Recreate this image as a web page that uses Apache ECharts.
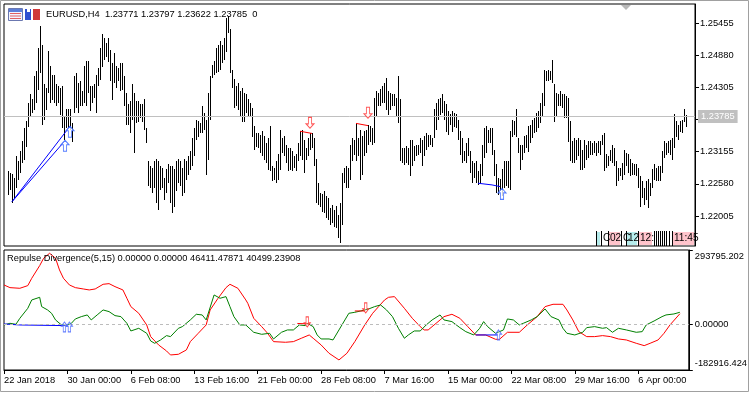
<!DOCTYPE html>
<html><head><meta charset="utf-8">
<script src="https://cdn.jsdelivr.net/npm/echarts@6/dist/echarts.min.js"></script>
<style>html,body{margin:0;padding:0;background:#fff}#c{width:750px;height:394px}</style>
</head><body><div id="c"></div>
<script>
// ---------------- data ----------------
const symbolName = "EURUSD,H4";
const lastOHLC = [1.23771, 1.23797, 1.23622, 1.23785];
const lastVolume = 0;
const firstBarIndex = 2;
const barHigh = [
1.2280,1.2277,1.2274,1.2268,1.2307,1.2298,1.2315,1.2333,1.2357,1.2369,
1.2402,1.2417,1.2408,1.2449,1.2458,1.2500,1.2539,1.2506,1.2435,1.2429,
1.2494,1.2467,1.2452,1.2452,1.2435,1.2432,1.2429,1.2432,1.2378,1.2390,
1.2390,1.2390,1.2366,1.2449,1.2455,1.2438,1.2441,1.2423,1.2467,1.2476,
1.2476,1.2432,1.2432,1.2435,1.2452,1.2464,1.2500,1.2524,1.2518,1.2509,
1.2518,1.2497,1.2473,1.2491,1.2467,1.2464,1.2473,1.2473,1.2449,1.2420,
1.2399,1.2405,1.2435,1.2420,1.2405,1.2405,1.2399,1.2399,1.2408,1.2357,
1.2298,1.2289,1.2286,1.2298,1.2301,1.2298,1.2289,1.2286,1.2268,1.2283,
1.2292,1.2289,1.2289,1.2283,1.2298,1.2301,1.2298,1.2286,1.2301,1.2298,
1.2307,1.2315,1.2339,1.2357,1.2372,1.2369,1.2366,1.2396,1.2384,1.2372,
1.2420,1.2449,1.2470,1.2476,1.2500,1.2506,1.2512,1.2506,1.2518,1.2554,
1.2557,1.2533,1.2461,1.2444,
1.2432,1.2438,1.2423,1.2429,1.2420,1.2417,1.2408,1.2402,1.2393,1.2360,
1.2348,1.2348,1.2345,1.2351,1.2342,1.2330,1.2339,1.2360,1.2289,1.2286,
1.2298,1.2310,1.2354,1.2339,1.2342,1.2327,1.2321,1.2321,1.2315,1.2307,
1.2310,1.2330,1.2351,1.2354,1.2336,1.2321,1.2339,1.2348,1.2348,1.2339,
1.2301,1.2259,1.2241,1.2238,1.2244,1.2235,1.2232,1.2214,1.2220,1.2211,
1.2217,1.2202,1.2223,1.2277,1.2286,1.2289,1.2286,1.2327,1.2339,1.2336,
1.2366,1.2339,1.2354,1.2342,1.2351,1.2354,1.2363,1.2360,1.2357,1.2411,
1.2423,1.2420,1.2426,1.2432,1.2438,1.2446,1.2423,1.2420,1.2417,1.2417,
1.2411,1.2449,1.2408,1.2321,1.2321,1.2324,1.2321,1.2336,1.2336,1.2324,
1.2327,1.2327,1.2339,1.2336,1.2342,1.2348,1.2345,1.2345,1.2339,1.2390,
1.2402,1.2408,1.2411,1.2417,1.2405,1.2399,1.2387,1.2381,1.2387,1.2384,
1.2381,1.2372,
1.2351,1.2339,1.2315,1.2330,1.2339,1.2315,1.2298,1.2295,1.2298,1.2280,
1.2292,1.2327,1.2357,1.2360,1.2354,1.2357,1.2357,1.2318,1.2292,1.2268,
1.2265,1.2283,1.2298,1.2298,1.2298,1.2351,1.2372,1.2369,1.2390,1.2339,
1.2327,1.2327,1.2342,1.2345,1.2360,1.2363,1.2372,1.2375,1.2384,1.2387,
1.2402,1.2420,1.2461,1.2458,1.2461,1.2458,1.2479,1.2435,1.2420,1.2417,
1.2423,1.2417,1.2417,1.2414,1.2411,1.2369,1.2333,1.2339,1.2336,1.2339,
1.2336,1.2318,1.2336,1.2327,1.2333,1.2333,1.2330,1.2333,1.2330,1.2333,
1.2333,1.2345,1.2348,1.2310,1.2307,1.2318,1.2327,1.2321,1.2298,1.2286,
1.2286,1.2295,1.2318,1.2312,1.2310,1.2301,1.2295,1.2292,1.2292,1.2286,
1.2271,1.2262,1.2250,1.2262,1.2265,1.2259,1.2283,1.2292,1.2286,1.2289,
1.2289,1.2315,1.2333,1.2330,1.2333,1.2336,1.2339,1.2381,1.2369,1.2363,
1.2369,1.2372,1.2390,1.23797];
const barLow = [
1.2241,1.2250,1.2226,1.2235,1.2253,1.2268,1.2280,1.2298,1.2304,1.2327,
1.2363,1.2381,1.2387,1.2393,1.2405,1.2429,1.2458,1.2366,1.2375,1.2393,
1.2423,1.2405,1.2411,1.2405,1.2399,1.2405,1.2384,1.2360,1.2339,1.2360,
1.2360,1.2357,1.2336,1.2387,1.2396,1.2387,1.2399,1.2399,1.2405,1.2399,
1.2423,1.2390,1.2405,1.2414,1.2387,1.2435,1.2446,1.2470,1.2482,1.2488,
1.2479,1.2444,1.2411,1.2441,1.2432,1.2444,1.2426,1.2429,1.2399,1.2366,
1.2366,1.2351,1.2375,1.2315,1.2369,1.2372,1.2378,1.2372,1.2357,1.2333,
1.2256,1.2253,1.2244,1.2253,1.2226,1.2214,1.2250,1.2253,1.2232,1.2244,
1.2262,1.2226,1.2208,1.2220,1.2247,1.2262,1.2256,1.2238,1.2244,1.2268,
1.2277,1.2286,1.2292,1.2310,1.2339,1.2345,1.2351,1.2351,1.2357,1.2277,
1.2304,1.2375,1.2449,1.2455,1.2458,1.2461,1.2464,1.2476,1.2482,1.2497,
1.2530,1.2458,1.2432,1.2396,
1.2399,1.2393,1.2381,1.2372,1.2372,1.2387,1.2381,1.2381,1.2345,1.2321,
1.2327,1.2324,1.2315,1.2310,1.2304,1.2298,1.2286,1.2283,1.2265,1.2268,
1.2262,1.2268,1.2286,1.2315,1.2310,1.2298,1.2283,1.2286,1.2283,1.2289,
1.2283,1.2301,1.2310,1.2304,1.2280,1.2304,1.2310,1.2321,1.2324,1.2292,
1.2226,1.2223,1.2220,1.2211,1.2208,1.2199,1.2196,1.2187,1.2190,1.2184,
1.2181,1.2163,1.2154,1.2187,1.2262,1.2253,1.2253,1.2268,1.2301,1.2312,
1.2301,1.2310,1.2268,1.2277,1.2310,1.2315,1.2330,1.2336,1.2330,1.2333,
1.2381,1.2399,1.2399,1.2405,1.2405,1.2393,1.2384,1.2393,1.2399,1.2399,
1.2381,1.2369,1.2301,1.2298,1.2295,1.2298,1.2295,1.2274,1.2292,1.2301,
1.2310,1.2312,1.2315,1.2292,1.2310,1.2321,1.2327,1.2330,1.2327,1.2342,
1.2357,1.2375,1.2384,1.2387,1.2375,1.2354,1.2348,1.2366,1.2354,1.2363,
1.2360,1.2339,
1.2312,1.2298,1.2301,1.2298,1.2310,1.2280,1.2262,1.2271,1.2262,1.2259,
1.2262,1.2274,1.2307,1.2315,1.2333,1.2333,1.2312,1.2274,1.2244,1.2241,
1.2247,1.2238,1.2253,1.2256,1.2253,1.2250,1.2345,1.2348,1.2345,1.2315,
1.2286,1.2304,1.2315,1.2324,1.2318,1.2333,1.2342,1.2351,1.2354,1.2360,
1.2369,1.2381,1.2399,1.2444,1.2444,1.2446,1.2441,1.2372,1.2381,1.2399,
1.2399,1.2396,1.2378,1.2378,1.2336,1.2301,1.2298,1.2298,1.2304,1.2310,
1.2286,1.2286,1.2289,1.2304,1.2307,1.2312,1.2312,1.2315,1.2310,1.2315,
1.2312,1.2330,1.2283,1.2289,1.2292,1.2301,1.2298,1.2292,1.2256,1.2265,
1.2274,1.2268,1.2277,1.2292,1.2280,1.2274,1.2277,1.2277,1.2274,1.2253,
1.2220,1.2235,1.2223,1.2232,1.2217,1.2238,1.2253,1.2268,1.2265,1.2265,
1.2265,1.2280,1.2307,1.2312,1.2315,1.2312,1.2304,1.2324,1.2345,1.2339,
1.2354,1.2351,1.2372,1.23622];
const priceTicks = [1.22005, 1.22580, 1.23155, 1.23730, 1.24305, 1.24880, 1.25455];
const timeTickIndex = [0, 32, 64, 96, 128, 160, 192, 224, 256, 288, 320];
const timeTickLabels = ["22 Jan 2018","30 Jan 00:00","6 Feb 08:00","13 Feb 16:00","21 Feb 00:00",
  "28 Feb 08:00","7 Mar 16:00","15 Mar 00:00","22 Mar 08:00","29 Mar 16:00","6 Apr 00:00"];
const bullDivLines = [[[4,1.2226],[30,1.2333]], [[4,1.2226],[33,1.2361]], [[237,1.2259],[244,1.2256],[248,1.2253]]];
const bearDivLines = [[[148,1.2352],[154,1.2348]], [[176,1.2366],[182,1.2362]]];
const upArrowsMain = [[30.5,1.2326],[33,1.2351],[249,1.2240]];
const downArrowsMain = [[153,1.2367],[182,1.2385]];

const indicatorName = "Repulse Divergence(5,15)";
const indicatorValues = ["0.00000","0.00000","46411.47871","40499.23908"];
const indicatorTicks = [293795.202, 0, -182916.424];
const indicatorTickLabels = ["293795.202", "0.00000", "-182916.424"];
const repulseRed = [[0,154900],[3,144300],[8,141700],[12,152300],[14,181400],[18,231700],[20,260900],[23,280700],[26,260900],[28,214500],[30,181400],[33,154900],[36,144300],[40,139000],[43,135100],[46,139000],[50,157600],[53,160200],[56,148300],[60,135100],[62,102000],[64,68900],[68,42400],[72,-4000],[74,-50300],[78,-83400],[82,-107300],[84,-123200],[88,-120500],[92,-103300],[94,-70200],[98,-37100],[102,-4000],[104,55600],[108,102000],[112,144300],[114,157600],[118,141700],[122,95300],[123,82100],[126,22500],[130,-10600],[133,-37100],[136,-70200],[142,-72800],[146,-70200],[150,-56900],[154,-43700],[156,-56900],[160,-83400],[164,-116500],[169,-143000],[173,-116500],[177,-70200],[182,-4000],[186,42400],[189,68900],[192,95300],[194,105900],[197,108600],[202,62200],[206,22500],[210,-10600],[212,-23800],[214,-23800],[218,2600],[222,29100],[226,38400],[230,22500],[234,-10600],[238,-43700],[243,-43700],[248,-60900],[250,-60900],[254,-33100],[260,-33100],[264,-4000],[269,29100],[273,68900],[277,78100],[282,78100],[284,55600],[287,15900],[290,-30500],[294,-50300],[298,-50300],[302,-46300],[306,-50300],[310,-59600],[314,-63600],[319,-76800],[323,-86100],[326,-76800],[330,-63600],[333,-37100],[336,-4000],[341,40499]];
const repulseGreen = [[0,-4000],[3,2600],[6,-1300],[8,22500],[12,62200],[14,95300],[18,105900],[19,68900],[22,55600],[24,42400],[26,15900],[29,-4000],[32,-4000],[34,2600],[36,19900],[39,29100],[42,35800],[44,15900],[47,35800],[50,55600],[53,49000],[56,33100],[59,29100],[62,2600],[64,-27800],[68,-17200],[72,-37100],[74,-67500],[76,-76800],[79,-63600],[82,-46300],[84,-50300],[88,-17200],[90,-10600],[94,15900],[97,38400],[100,35800],[102,15900],[106,115200],[109,102000],[112,108600],[114,68900],[116,29100],[119,-4000],[122,-4000],[123,-10600],[126,-33100],[130,-41100],[134,-37100],[136,-59600],[140,-33100],[143,-23800],[146,-23800],[149,-4000],[152,-6600],[153,2600],[156,-10600],[158,-43700],[160,-59600],[164,-59600],[166,-63600],[169,-23800],[172,15900],[174,42400],[177,46300],[180,51600],[184,59600],[187,68900],[190,75500],[193,55600],[196,29100],[199,-17200],[202,-56900],[204,-43700],[207,-27800],[210,-27800],[213,-4000],[216,15900],[220,35800],[222,15900],[226,9300],[230,-14600],[233,-30500],[237,-43700],[240,-17200],[242,9300],[244,-10600],[248,-37100],[252,-23800],[254,19900],[257,15900],[260,-4000],[262,2600],[266,15900],[269,29100],[273,59600],[276,29100],[280,15900],[282,-17200],[284,-37100],[288,-43700],[292,-33100],[294,-14600],[298,-10600],[302,-17200],[304,-14600],[307,-33100],[310,-17200],[314,-23800],[319,-33100],[322,-30500],[324,-4000],[328,11900],[332,29100],[334,35800],[338,39700],[341,46411]];
const indBlueLines = [[[0,0],[8,-4000],[31,-6600]], [[238,-43700],[249,-43700]]];
const indRedLines = [[[148,2000],[154,0]], [[177,51600],[182,51600]]];
const indUpArrows = [[30.5,-12000],[33,-12000],[249.5,-43700]];
const indDownArrows = [[153,7900],[182.5,63600]];

// ---------------- chart ----------------
const FONT = '"Liberation Sans", Arial, sans-serif';
const FS = 9.3;
const chart = echarts.init(document.getElementById('c'), null, {renderer: 'canvas'});
const bars = barHigh.map((h, i) => [firstBarIndex + i, h, barLow[i]]);
const UP = 'path://M4,0 L8,4.5 L5.6,4.5 L5.6,11 L2.4,11 L2.4,4.5 L0,4.5 Z';
const DOWN = 'path://M2.4,0 L5.6,0 L5.6,6.5 L8,6.5 L4,11 L0,6.5 L2.4,6.5 Z';

function seg(data, color, g) {
  return {type: 'line', xAxisIndex: g, yAxisIndex: g, data: data, symbol: 'none',
    lineStyle: {color: color, width: 1}, silent: true, z: 4};
}
function nearestIdx(arr, v) {
  let b = 0; for (let i = 1; i < arr.length; i++) if (Math.abs(arr[i] - v) < Math.abs(arr[b] - v)) b = i; return b;
}

const series = [];
series.push({
  type: 'custom', xAxisIndex: 0, yAxisIndex: 0, data: bars, clip: true, z: 3,
  encode: {x: 0, y: [1, 2]},
  renderItem: function (params, api) {
    const t = api.coord([api.value(0), api.value(1)]);
    const b = api.coord([api.value(0), api.value(2)]);
    const x = Math.round(t[0]) + 0.5;
    return {type: 'line', shape: {x1: x, y1: Math.floor(t[1]), x2: x, y2: Math.ceil(b[1]) + 1},
      style: {stroke: '#000', lineWidth: 1}};
  }
});
bullDivLines.forEach(d => series.push(seg(d, '#0000ff', 0)));
bearDivLines.forEach(d => series.push(seg(d, '#ff0000', 0)));
// current price line with label box (attached to a series that has data)
series[1].markLine = {silent: true, symbol: 'none', animation: false, precision: 5,
  lineStyle: {color: '#c0c0c0', type: 'solid', width: 1},
  label: {show: true, position: 'end', distance: 3, formatter: lastOHLC[3].toFixed(5),
    color: '#fff', backgroundColor: '#c0c0c0', padding: [2, 3, 2, 3], fontFamily: FONT, fontSize: FS},
  data: [{yAxis: lastOHLC[3]}]};
series[1].z = 2;
series.push({type: 'scatter', xAxisIndex: 0, yAxisIndex: 0, data: upArrowsMain, symbol: UP, symbolSize: [8, 11],
  itemStyle: {color: '#fff', borderColor: '#2a5cff', borderWidth: 1}, z: 6, silent: true});
series.push({type: 'scatter', xAxisIndex: 0, yAxisIndex: 0, data: downArrowsMain, symbol: DOWN, symbolSize: [8, 11],
  itemStyle: {color: '#fff', borderColor: '#ff3030', borderWidth: 1}, z: 6, silent: true});

// indicator
series.push({type: 'line', xAxisIndex: 1, yAxisIndex: 1, data: repulseRed, symbol: 'none',
  lineStyle: {color: '#ff0000', width: 1}, z: 3, silent: true});
series.push({type: 'line', xAxisIndex: 1, yAxisIndex: 1, data: repulseGreen, symbol: 'none',
  lineStyle: {color: '#008000', width: 1}, z: 3, silent: true,
  markLine: {silent: true, symbol: 'none', animation: false, precision: 5, label: {show: false},
    lineStyle: {color: '#bcbcbc', type: [3, 3], width: 1}, data: [{yAxis: 0}]}});
indBlueLines.forEach(d => series.push(seg(d, '#0000ff', 1)));
indRedLines.forEach(d => series.push(seg(d, '#ff0000', 1)));
series.push({type: 'scatter', xAxisIndex: 1, yAxisIndex: 1, data: indUpArrows, symbol: UP, symbolSize: [6, 10],
  itemStyle: {color: 'rgba(255,255,255,0.3)', borderColor: '#4060ff', borderWidth: 1}, z: 6, silent: true});
series.push({type: 'scatter', xAxisIndex: 1, yAxisIndex: 1, data: indDownArrows, symbol: DOWN, symbolSize: [6, 10],
  itemStyle: {color: 'rgba(255,255,255,0.3)', borderColor: '#ff2020', borderWidth: 1}, z: 6, silent: true});

// decorations
const g = [];
g.push({type: 'rect', shape: {x: 0.5, y: 0.5, width: 748, height: 391}, style: {fill: 'none', stroke: '#a0a0a0'}, z: 100});
g.push({type: 'text', x: 46, y: 10, style: {text: symbolName + '  ' + lastOHLC.map(v => v.toFixed(5)).join(' ') + '  ' + lastVolume,
  font: FS + 'px ' + FONT, fill: '#000'}, z: 100});
g.push({type: 'text', x: 7, y: 254, style: {text: indicatorName + ' ' + indicatorValues.join(' '),
  font: FS + 'px ' + FONT, fill: '#000'}, z: 100});
// toolbar-like icons
g.push({type: 'rect', shape: {x: 8.5, y: 8.5, width: 14, height: 12}, style: {fill: '#f2f4ff', stroke: '#6b78b0'}, z: 100});
g.push({type: 'rect', shape: {x: 9, y: 9, width: 13, height: 3}, style: {fill: '#5d7fd8'}, z: 100});
[13.5, 16, 18.5].forEach(y => g.push({type: 'line', shape: {x1: 10, y1: y, x2: 21, y2: y}, style: {stroke: '#e06060', lineWidth: 1}, z: 100}));
g.push({type: 'rect', shape: {x: 25, y: 9, width: 6, height: 11}, style: {fill: '#2f4fd0'}, z: 100});
g.push({type: 'rect', shape: {x: 33, y: 9, width: 7, height: 11}, style: {fill: '#d03a3a'}, z: 100});
g.push({type: 'rect', shape: {x: 27, y: 9, width: 3, height: 3}, style: {fill: '#fff'}, z: 100});
// chart shift marker
g.push({type: 'polygon', shape: {points: [[621, 5], [631, 5], [626, 10]]}, style: {fill: '#b8b8b8'}, z: 100});
// vertical-line labels (bottom right of main chart)
const vl = [
  {x: 596, w: 4, bg: '#b6ecec', t: ''}, {x: 601, w: 6, bg: '#fff', t: 'C'}, {x: 608, w: 12, bg: '#ffc4cc', t: '02'},
  {x: 621, w: 4, bg: '#fff', t: 'C'}, {x: 626, w: 11, bg: '#b6ecec', t: '12'}, {x: 638, w: 14, bg: '#ffc4cc', t: '12:'},
  {x: 666, w: 5, bg: '#fff', t: ''}, {x: 672, w: 22, bg: '#ffc4cc', t: '11:45'}];
vl.forEach(o => {
  g.push({type: 'rect', shape: {x: o.x, y: 232, width: o.w, height: 13}, style: {fill: o.bg}, z: 100});
  g.push({type: 'line', shape: {x1: o.x + 0.5, y1: 231, x2: o.x + 0.5, y2: 246}, style: {stroke: '#000', lineWidth: 1}, z: 101});
  if (o.t) g.push({type: 'text', x: o.x + 2, y: 233, style: {text: o.t, font: (FS + 0.8) + 'px ' + FONT, fill: '#000'}, z: 101});
});
[654, 656, 658, 660, 662, 664, 669].forEach(x => g.push({type: 'line', shape: {x1: x + 0.5, y1: 231, x2: x + 0.5, y2: 246},
  style: {stroke: '#000', lineWidth: 1}, z: 101}));

const option = {
  animation: false,
  backgroundColor: '#fff',
  grid: [
    {left: 4, top: 4, width: 691, height: 242, show: true, borderColor: '#000', borderWidth: 1, backgroundColor: '#fff'},
    {left: 4, top: 250, width: 691, height: 120, show: true, borderColor: '#000', borderWidth: 1, backgroundColor: '#fff'}
  ],
  xAxis: [
    {gridIndex: 0, type: 'value', min: 0, max: 345.5, show: false},
    {gridIndex: 1, type: 'value', min: 0, max: 345.5,
      axisLine: {show: true, onZero: false, lineStyle: {color: '#000'}},
      axisTick: {show: true, length: 4, lineStyle: {color: '#000'}, customValues: timeTickIndex},
      axisLabel: {customValues: timeTickIndex, formatter: v => timeTickLabels[nearestIdx(timeTickIndex, v)],
        align: 'left', margin: 6, color: '#000', fontFamily: FONT, fontSize: FS, hideOverlap: false},
      splitLine: {show: false}}
  ],
  yAxis: [
    {gridIndex: 0, type: 'value', position: 'right', min: 1.21468, max: 1.25794,
      axisLine: {show: true, onZero: false, lineStyle: {color: '#000'}},
      axisTick: {show: true, length: 4, customValues: priceTicks, lineStyle: {color: '#000'}},
      axisLabel: {customValues: priceTicks, formatter: v => v.toFixed(5), margin: 5, color: '#000', fontFamily: FONT, fontSize: FS},
      splitLine: {show: false}},
    {gridIndex: 1, type: 'value', position: 'right', min: indicatorTicks[2], max: indicatorTicks[0],
      axisLine: {show: true, onZero: false, lineStyle: {color: '#000'}},
      axisTick: {show: true, length: 4, customValues: indicatorTicks, lineStyle: {color: '#000'}},
      axisLabel: {customValues: indicatorTicks, margin: 6, color: '#000', fontFamily: FONT, fontSize: FS,
        formatter: v => { const k = nearestIdx(indicatorTicks, v); const s = indicatorTickLabels[k];
          return k === 0 ? '{t|' + s + '}' : (k === 2 ? '{b|' + s + '}' : s); },
        rich: {t: {padding: [13, 0, 0, 0], fontFamily: FONT, fontSize: FS, color: '#000'},
               b: {padding: [0, 0, 13, 0], fontFamily: FONT, fontSize: FS, color: '#000'}}},
      splitLine: {show: false}}
  ],
  series: series,
  graphic: g
};
chart.setOption(option);
</script></body></html>
